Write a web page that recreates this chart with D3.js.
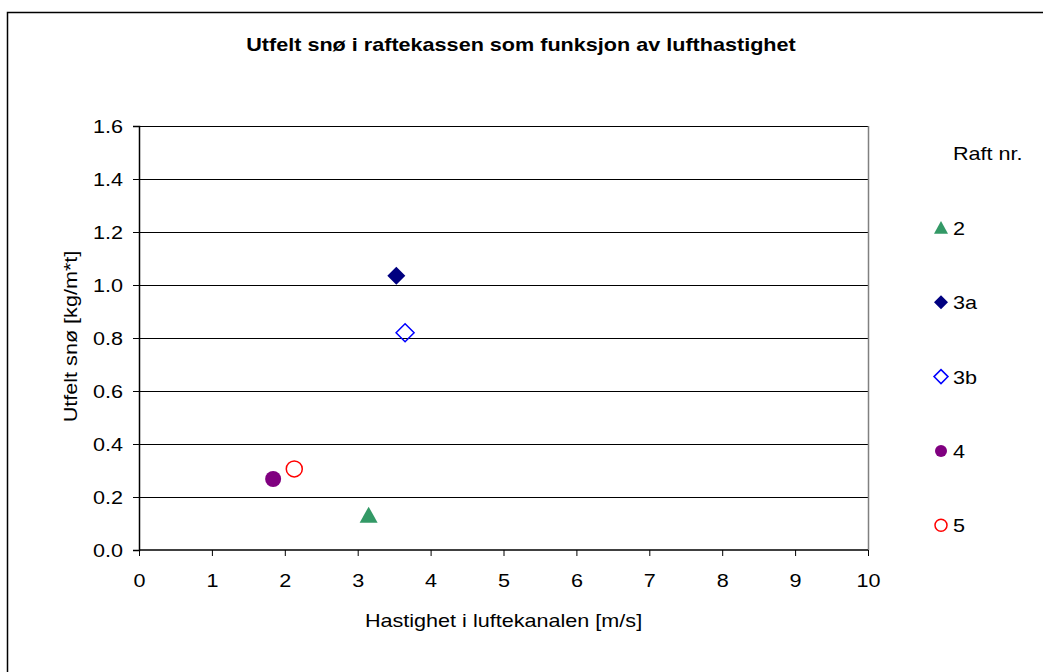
<!DOCTYPE html>
<html>
<head>
<meta charset="utf-8">
<script src="https://cdn.jsdelivr.net/npm/d3@7"></script>
<style>
  body { margin: 0; background: #fff; }
  svg { display: block; font-family: "Liberation Sans", Arial, sans-serif; }
</style>
</head>
<body>
<div id="chart"></div>
<script>
// series
var seriesNames = ["2", "3a", "3b", "4", "5"];
var xValues = [3.15, 3.53, 3.65, 1.84, 2.13];
var yValues = [0.13, 1.035, 0.82, 0.268, 0.306];
var xTicks = [0, 1, 2, 3, 4, 5, 6, 7, 8, 9, 10];
var yTicks = [0, 0.2, 0.4, 0.6, 0.8, 1.0, 1.2, 1.4, 1.6];

var styles = {
  "2":  { type: "triangle", fill: "#339966", stroke: "none" },
  "3a": { type: "diamond", fill: "#000080", stroke: "none" },
  "3b": { type: "diamond", fill: "none", stroke: "#0000ff" },
  "4":  { type: "circle", fill: "#800080", stroke: "none" },
  "5":  { type: "circle", fill: "none", stroke: "#ff0000" }
};

var width = 1043, height = 672;
var margin = { left: 139, right: 1043 - 868, top: 126, bottom: 672 - 550 };
var fs = 18, sx = 1.2; // the text in the original is drawn wide

var svg = d3.select("#chart").append("svg")
  .attr("width", width)
  .attr("height", height);

// outer chart border
svg.append("rect")
  .attr("x", 7.5).attr("y", 12.5)
  .attr("width", 1100).attr("height", 700)
  .attr("fill", "#fff").attr("stroke", "#000").attr("stroke-width", 1.5);

var x = d3.scaleLinear().domain([0, 10]).range([margin.left, width - margin.right]);
var y = d3.scaleLinear().domain([0, 1.6]).range([height - margin.bottom, margin.top]);

// wide text helper
function wideText(parent, tx, ty, str, anchor, rot) {
  var t = parent.append("text")
    .attr("transform", "translate(" + tx + "," + ty + ")" + (rot ? " rotate(" + rot + ")" : "") + " scale(" + sx + ",1)")
    .attr("text-anchor", anchor || "start")
    .attr("font-size", fs)
    .attr("fill", "#000")
    .text(str);
  return t;
}

// gridlines
svg.append("g")
  .selectAll("line")
  .data(yTicks.slice(1))
  .enter().append("line")
  .attr("x1", x(0)).attr("x2", x(10))
  .attr("y1", function(d) { return Math.round(y(d)) + 0.5; })
  .attr("y2", function(d) { return Math.round(y(d)) + 0.5; })
  .attr("stroke", "#000").attr("stroke-width", 1);

// right border of plot area
svg.append("line")
  .attr("x1", x(10) + 0.5).attr("x2", x(10) + 0.5)
  .attr("y1", y(1.6)).attr("y2", y(0))
  .attr("stroke", "#808080").attr("stroke-width", 1.5);

// axes
var xAxis = svg.append("g")
  .attr("transform", "translate(0," + y(0) + ")")
  .call(d3.axisBottom(x).tickValues(xTicks).tickSize(6).tickFormat(d3.format("d")));
var yAxis = svg.append("g")
  .attr("transform", "translate(" + x(0) + ",0)")
  .call(d3.axisLeft(y).tickValues(yTicks).tickSize(6).tickFormat(d3.format(".1f")));

[xAxis, yAxis].forEach(function(a) {
  a.select(".domain").attr("stroke", "#000").attr("stroke-width", 1.5);
  a.selectAll(".tick line").attr("stroke", "#000");
  a.selectAll("text").remove();
});
xAxis.select(".domain").attr("d", "M" + x(0) + ",0H" + x(10));

xAxis.selectAll(".tick").each(function(d) {
  wideText(d3.select(this), 0, 37, d3.format("d")(d), "middle");
});
yAxis.selectAll(".tick").each(function(d) {
  wideText(d3.select(this), -16, 6.5, d3.format(".1f")(d), "end");
});

// titles
wideText(svg, 521, 51, "Utfelt snø i raftekassen som funksjon av lufthastighet", "middle")
  .attr("font-weight", "bold");
wideText(svg, (x(0) + x(10)) / 2, 627, "Hastighet i luftekanalen [m/s]", "middle");
wideText(svg, 77, 336.5, "Utfelt snø [kg/m*t]", "middle", -90);

// markers
function markerPath(type, r) {
  if (type == "circle") return d3.symbol().type(d3.symbolCircle).size(Math.PI * r * r)();
  if (type == "diamond") return "M0," + (-r) + "L" + r + ",0L0," + r + "L" + (-r) + ",0Z";
  var h = r * 1.8;
  return "M0," + (-h * 0.55) + "L" + r + "," + (h * 0.45) + "L" + (-r) + "," + (h * 0.45) + "Z";
}

var points = seriesNames.map(function(n, i) {
  return { name: n, x: xValues[i], y: yValues[i] };
});

svg.append("g")
  .selectAll("path")
  .data(points)
  .enter().append("path")
  .attr("transform", function(d) { return "translate(" + x(d.x) + "," + y(d.y) + ")"; })
  .attr("d", function(d) {
    var s = styles[d.name];
    return markerPath(s.type, s.type == "circle" ? 8 : 9);
  })
  .attr("fill", function(d) { return styles[d.name].fill; })
  .attr("stroke", function(d) { return styles[d.name].stroke; })
  .attr("stroke-width", 1.5);

// legend
var legend = svg.append("g");
wideText(legend, 953, 160, "Raft nr.");

var item = legend.selectAll("g.item")
  .data(seriesNames)
  .enter().append("g")
  .attr("class", "item")
  .attr("transform", function(d, i) { return "translate(941," + (228 + i * 74.3) + ")"; });

item.append("path")
  .attr("d", function(d) {
    var s = styles[d];
    return markerPath(s.type, s.type == "circle" ? 6 : 7);
  })
  .attr("fill", function(d) { return styles[d].fill; })
  .attr("stroke", function(d) { return styles[d].stroke; })
  .attr("stroke-width", 1.5);

item.each(function(d) {
  wideText(d3.select(this), 12, 7, d);
});
</script>
</body>
</html>
